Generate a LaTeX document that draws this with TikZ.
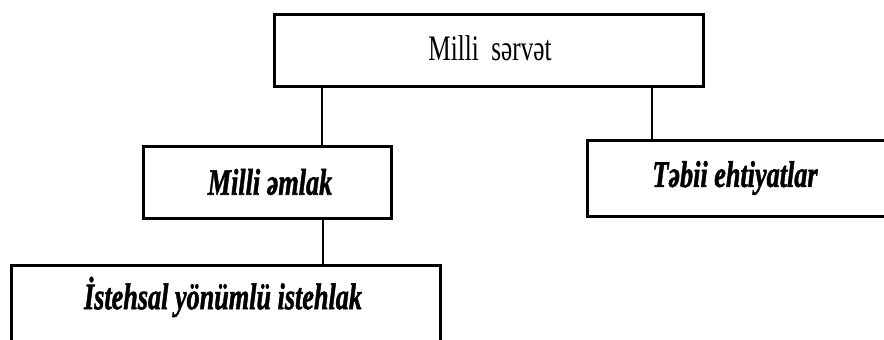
\documentclass[tikz,border=0pt]{standalone}
\usepackage{fontspec}
\setmainfont{Liberation Serif}
\newfontfamily\heavyit[ItalicFeatures={FakeBold=1.6}]{Liberation Serif Bold}
\newcommand{\tallt}[1]{\scalebox{0.97}[1.38]{#1}}
\begin{document}
\begin{tikzpicture}[x=1pt,y=-1pt,
  box/.style={draw=black,line width=3pt,fill=none,inner sep=0pt,anchor=north west},
  conn/.style={draw=black,line width=2.6pt},
  lbl/.style={font=\fontsize{27}{30}\heavyit\itshape,inner sep=0pt},
  plain/.style={font=\fontsize{26}{30}\selectfont,inner sep=0pt}]
\useasboundingbox (0,0) rectangle (884,340);
% boxes
\node[box,minimum width=429pt,minimum height=72pt] (top) at (273,13) {};
\node[plain] (toptext) at (490,48) {\tallt{Milli\ \ sərvət}};
\node[box,minimum width=248pt,minimum height=72pt] (mid) at (142,145) {};
\node[lbl] (midtext) at (270,182) {\tallt{Milli əmlak}};
\node[box,minimum width=298pt,minimum height=76pt] (right) at (586,139) {};
\node[lbl] (righttext) at (735,178) {\tallt{Təbii ehtiyatlar}};
\node[box,minimum width=429pt,minimum height=110pt] (bot) at (10,264) {};
\node[lbl] (bottext) at (223,297) {\tallt{İstehsal yönümlü istehlak}};
% connectors
\draw[conn] (top.south -| 322,0) -- (mid.north -| 322,0);
\draw[conn] (top.south -| 652,0) -- (right.north -| 652,0);
\draw[conn] (mid.south -| 323,0) -- (bot.north -| 323,0);
\end{tikzpicture}
\end{document}
